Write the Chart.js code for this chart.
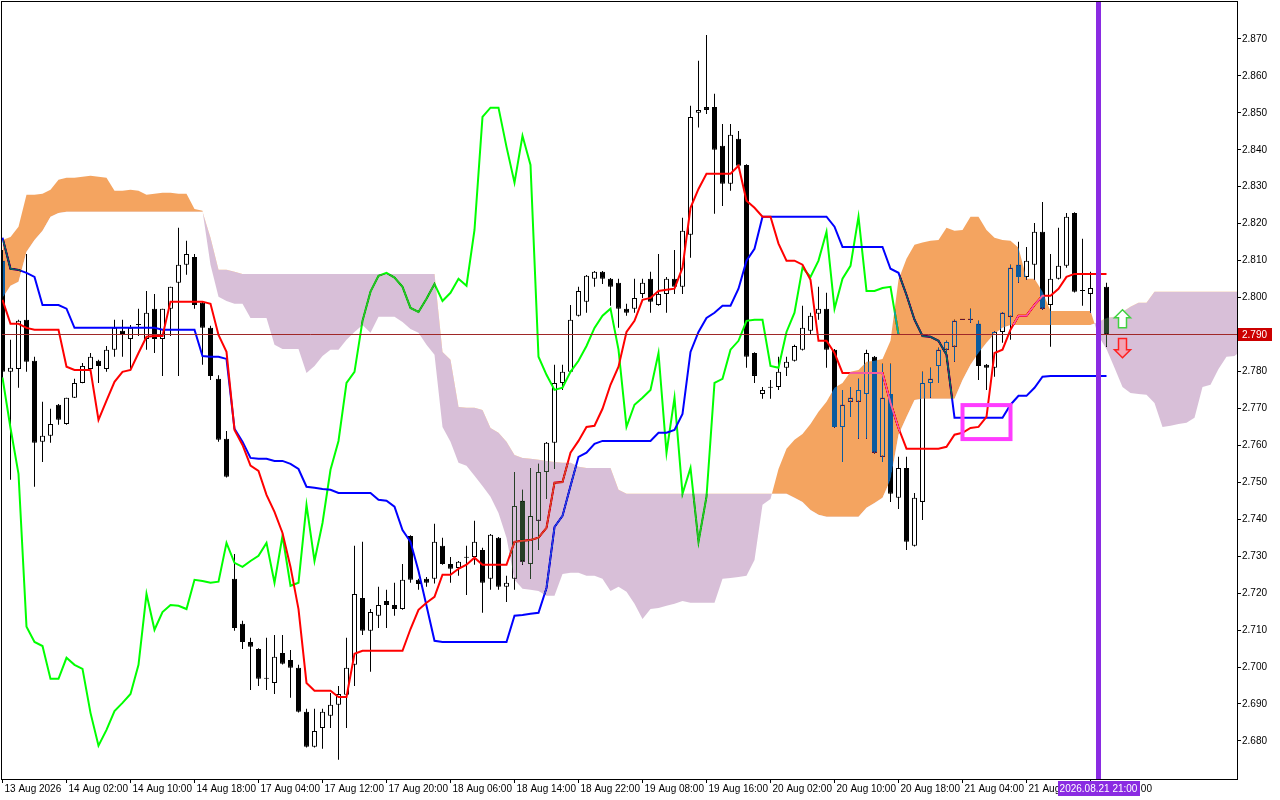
<!DOCTYPE html>
<html>
<head>
<meta charset="utf-8">
<title>Ichimoku H1</title>
<script src="https://cdn.jsdelivr.net/npm/chart.js@4.4.1/dist/chart.umd.min.js"></script>
<style>
  html, body { margin: 0; padding: 0; background: #fff; }
  canvas { display: block; }
</style>
</head>
<body>
<canvas id="chart" width="1280" height="800"></canvas>
<script>
// H1 candles, bar 0 = left edge of the window
const opens = [
  2.8100, 2.7799, 2.7807, 2.7940, 2.7829, 2.7610, 2.7626, 2.7710, 2.7658, 2.7729,
  2.7769, 2.7807, 2.7829, 2.7807, 2.7859, 2.7910, 2.7888, 2.7926, 2.7888, 2.7970,
  2.7888, 2.7970, 2.8040, 2.8089, 2.8110, 2.7986, 2.7918, 2.7780, 2.7618, 2.7239,
  2.7117, 2.7068, 2.7049, 2.6968, 2.6957, 2.7038, 2.7019, 2.6998, 2.6879, 2.6784,
  2.6835, 2.6868, 2.6898, 2.6925, 2.7006, 2.7187, 2.7098, 2.7139, 2.7179, 2.7168,
  2.7157, 2.7355, 2.7236, 2.7239, 2.7239, 2.7328, 2.7279, 2.7268, 2.7296, 2.7298,
  2.7317, 2.7239, 2.7350, 2.7217, 2.7239, 2.7450, 2.7279, 2.7396, 2.7528, 2.7607,
  2.7769, 2.7799, 2.7951, 2.7989, 2.8051, 2.8070, 2.8051, 2.8040, 2.7970, 2.7970,
  2.8010, 2.8051, 2.7980, 2.8010, 2.8051, 2.8029, 2.8170, 2.8500, 2.8516, 2.8516,
  2.8411, 2.8308, 2.8430, 2.8359, 2.7850, 2.7739, 2.7756, 2.7758, 2.7810, 2.7829,
  2.7859, 2.7910, 2.7956, 2.7970, 2.7859, 2.7650, 2.7718, 2.7718, 2.7739, 2.7840,
  2.7569, 2.7739, 2.7458, 2.7539, 2.7328, 2.7447, 2.7769, 2.7815, 2.7859, 2.7867,
  2.7940, 2.7940, 2.7929, 2.7818, 2.7810, 2.7907, 2.7948, 2.8089, 2.8056, 2.8089,
  2.8178, 2.7980, 2.8051, 2.8086, 2.8229, 2.8018, 2.8010, 2.8026, 2.8029
]
const highs = [
  2.8129, 2.7886, 2.7940, 2.8118, 2.7840, 2.7718, 2.7699, 2.7712, 2.7729, 2.7780,
  2.7823, 2.7850, 2.7832, 2.7869, 2.7940, 2.7940, 2.7926, 2.7970, 2.8018, 2.8010,
  2.7970, 2.8029, 2.8189, 2.8154, 2.8118, 2.7989, 2.7924, 2.7790, 2.7639, 2.7306,
  2.7125, 2.7079, 2.7051, 2.7079, 2.7087, 2.7087, 2.7046, 2.7006, 2.6887, 2.6887,
  2.6887, 2.6930, 2.6949, 2.7079, 2.7328, 2.7339, 2.7157, 2.7217, 2.7209, 2.7228,
  2.7279, 2.7357, 2.7239, 2.7244, 2.7388, 2.7350, 2.7298, 2.7287, 2.7328, 2.7396,
  2.7323, 2.7360, 2.7352, 2.7247, 2.7528, 2.7480, 2.7539, 2.7550, 2.7609, 2.7818,
  2.7818, 2.7980, 2.8029, 2.8061, 2.8072, 2.8072, 2.8053, 2.8051, 2.7983, 2.8051,
  2.8051, 2.8070, 2.8118, 2.8056, 2.8129, 2.8216, 2.8519, 2.8641, 2.8711, 2.8552,
  2.8470, 2.8470, 2.8451, 2.8361, 2.7852, 2.7758, 2.7777, 2.7840, 2.7840, 2.7872,
  2.7978, 2.7959, 2.8029, 2.8013, 2.7861, 2.7750, 2.7758, 2.7780, 2.7859, 2.7842,
  2.7821, 2.7821, 2.7569, 2.7569, 2.7471, 2.7799, 2.7810, 2.7864, 2.7883, 2.7940,
  2.7940, 2.7970, 2.7937, 2.7820, 2.7909, 2.7961, 2.8089, 2.8151, 2.8137, 2.8202,
  2.8259, 2.8118, 2.8189, 2.8229, 2.8231, 2.8159, 2.8070, 2.8048, 2.8040
]
const lows = [
  2.7783, 2.7507, 2.7756, 2.7799, 2.7488, 2.7555, 2.7607, 2.7656, 2.7656, 2.7728,
  2.7768, 2.7804, 2.7769, 2.7799, 2.7840, 2.7840, 2.7807, 2.7896, 2.7859, 2.7850,
  2.7788, 2.7896, 2.7788, 2.8062, 2.7970, 2.7818, 2.7777, 2.7610, 2.7513, 2.7098,
  2.7049, 2.6938, 2.6949, 2.6938, 2.6927, 2.7007, 2.6917, 2.6877, 2.6782, 2.6782,
  2.6779, 2.6835, 2.6749, 2.6835, 2.6949, 2.7087, 2.6987, 2.7106, 2.7106, 2.7139,
  2.7155, 2.7228, 2.7209, 2.7217, 2.7226, 2.7277, 2.7228, 2.7247, 2.7195, 2.7277,
  2.7147, 2.7209, 2.7209, 2.7176, 2.7209, 2.7277, 2.7238, 2.7317, 2.7455, 2.7536,
  2.7750, 2.7797, 2.7949, 2.7959, 2.8029, 2.8037, 2.7978, 2.7918, 2.7951, 2.7959,
  2.7999, 2.7959, 2.7978, 2.7959, 2.8010, 2.8010, 2.8108, 2.8460, 2.8497, 2.8227,
  2.8248, 2.8289, 2.8355, 2.7810, 2.7769, 2.7726, 2.7726, 2.7750, 2.7788, 2.7827,
  2.7857, 2.7899, 2.7940, 2.7810, 2.7648, 2.7555, 2.7677, 2.7618, 2.7618, 2.7578,
  2.7555, 2.7447, 2.7428, 2.7317, 2.7326, 2.7398, 2.7729, 2.7769, 2.7826, 2.7826,
  2.7940, 2.7932, 2.7777, 2.7750, 2.7786, 2.7878, 2.7886, 2.8040, 2.8048, 2.8048,
  2.7967, 2.7867, 2.8049, 2.8081, 2.8014, 2.7978, 2.7959, 2.8005, 2.7867
]
const closes = [
  2.7799, 2.7810, 2.7937, 2.7826, 2.7607, 2.7626, 2.7658, 2.7669, 2.7729, 2.7769,
  2.7815, 2.7840, 2.7815, 2.7859, 2.7918, 2.7899, 2.7918, 2.7926, 2.7959, 2.7888,
  2.7970, 2.8029, 2.8089, 2.8118, 2.7980, 2.7918, 2.7788, 2.7615, 2.7515, 2.7106,
  2.7068, 2.7055, 2.6968, 2.6968, 2.7028, 2.7009, 2.6998, 2.6879, 2.6784, 2.6827,
  2.6879, 2.6898, 2.6927, 2.6998, 2.7198, 2.7098, 2.7149, 2.7168, 2.7168, 2.7157,
  2.7236, 2.7236, 2.7225, 2.7228, 2.7339, 2.7279, 2.7266, 2.7285, 2.7298, 2.7339,
  2.7228, 2.7358, 2.7217, 2.7228, 2.7436, 2.7285, 2.7409, 2.7528, 2.7607, 2.7769,
  2.7799, 2.7940, 2.8018, 2.8059, 2.8070, 2.8051, 2.8029, 2.7970, 2.7959, 2.7999,
  2.8040, 2.7989, 2.8010, 2.8051, 2.8029, 2.8181, 2.8489, 2.8508, 2.8508, 2.8400,
  2.8308, 2.8441, 2.8357, 2.7840, 2.7788, 2.7750, 2.7756, 2.7799, 2.7826, 2.7869,
  2.7918, 2.7951, 2.7970, 2.7859, 2.7650, 2.7710, 2.7729, 2.7750, 2.7850, 2.7580,
  2.7729, 2.7469, 2.7539, 2.7339, 2.7458, 2.7769, 2.7780, 2.7859, 2.7880, 2.7937,
  2.7940, 2.7940, 2.7815, 2.7810, 2.7907, 2.7959, 2.8081, 2.8056, 2.8100, 2.8178,
  2.7970, 2.8051, 2.8086, 2.8219, 2.8016, 2.8018, 2.8026, 2.8029, 2.7900
]

// Ichimoku lines
const tenkan = [
  2.7994, 2.7929, 2.7929, 2.7918, 2.7913, 2.7913, 2.7913, 2.7913, 2.7813, 2.7804,
  2.7804, 2.7804, 2.7669, 2.7721, 2.7772, 2.7799, 2.7804, 2.7850, 2.7894, 2.7896,
  2.7896, 2.7989, 2.7989, 2.7989, 2.7989, 2.7989, 2.7983, 2.7899, 2.7853, 2.7642,
  2.7601, 2.7545, 2.7531, 2.7466, 2.7420, 2.7363, 2.7271, 2.7157, 2.6957, 2.6936,
  2.6936, 2.6936, 2.6919, 2.6919, 2.7036, 2.7044, 2.7044, 2.7044, 2.7044, 2.7044,
  2.7044, 2.7103, 2.7155, 2.7174, 2.7190, 2.7250, 2.7250, 2.7266, 2.7277, 2.7296,
  2.7277, 2.7277, 2.7277, 2.7277, 2.7339, 2.7342, 2.7344, 2.7350, 2.7377, 2.7499,
  2.7501, 2.7580, 2.7612, 2.7650, 2.7653, 2.7699, 2.7764, 2.7813, 2.7907, 2.7937,
  2.7994, 2.7999, 2.8018, 2.8021, 2.8024, 2.8081, 2.8243, 2.8294, 2.8335, 2.8335,
  2.8335, 2.8335, 2.8357, 2.8262, 2.8243, 2.8219, 2.8219, 2.8146, 2.8100, 2.8100,
  2.8089, 2.8048, 2.7883, 2.7883, 2.7850, 2.7796, 2.7796, 2.7796, 2.7796, 2.7796,
  2.7796, 2.7715, 2.7647, 2.7591, 2.7591, 2.7591, 2.7591, 2.7591, 2.7596, 2.7629,
  2.7634, 2.7647, 2.7650, 2.7677, 2.7850, 2.7859, 2.7913, 2.7951, 2.7951, 2.7980,
  2.8005, 2.8005, 2.8024, 2.8056, 2.8064, 2.8064, 2.8064, 2.8064, 2.8064
]
const kijun = [
  2.8162, 2.8078, 2.8075, 2.8067, 2.8056, 2.7980, 2.7980, 2.7980, 2.7970, 2.7918,
  2.7918, 2.7918, 2.7918, 2.7918, 2.7918, 2.7918, 2.7918, 2.7918, 2.7918, 2.7918,
  2.7913, 2.7913, 2.7913, 2.7913, 2.7913, 2.7842, 2.7840, 2.7840, 2.7834, 2.7645,
  2.7610, 2.7566, 2.7564, 2.7564, 2.7558, 2.7558, 2.7550, 2.7536, 2.7488, 2.7485,
  2.7482, 2.7480, 2.7471, 2.7471, 2.7471, 2.7471, 2.7471, 2.7453, 2.7450, 2.7434,
  2.7371, 2.7339, 2.7260, 2.7166, 2.7071, 2.7068, 2.7068, 2.7068, 2.7068, 2.7068,
  2.7068, 2.7068, 2.7068, 2.7068, 2.7139, 2.7141, 2.7144, 2.7147, 2.7214, 2.7379,
  2.7409, 2.7490, 2.7569, 2.7580, 2.7604, 2.7612, 2.7612, 2.7612, 2.7612, 2.7612,
  2.7612, 2.7612, 2.7634, 2.7634, 2.7642, 2.7685, 2.7853, 2.7907, 2.7945, 2.7959,
  2.7978, 2.7978, 2.8024, 2.8100, 2.8132, 2.8219, 2.8219, 2.8219, 2.8219, 2.8219,
  2.8219, 2.8219, 2.8219, 2.8219, 2.8192, 2.8137, 2.8137, 2.8137, 2.8137, 2.8137,
  2.8137, 2.8078, 2.8067, 2.8007, 2.7940, 2.7896, 2.7894, 2.7883, 2.7845, 2.7675,
  2.7675, 2.7675, 2.7675, 2.7675, 2.7675, 2.7675, 2.7710, 2.7734, 2.7734, 2.7756,
  2.7786, 2.7788, 2.7788, 2.7788, 2.7788, 2.7788, 2.7788, 2.7788, 2.7788
]
// lagging span, plotted 26 bars back
const chikou = [
  2.7783, 2.7647, 2.7523, 2.7109, 2.7068, 2.7057, 2.6968, 2.6968, 2.7025, 2.7006,
  2.6995, 2.6876, 2.6787, 2.6830, 2.6881, 2.6903, 2.6927, 2.7006, 2.7198, 2.7101,
  2.7149, 2.7168, 2.7166, 2.7157, 2.7236, 2.7233, 2.7228, 2.7231, 2.7336, 2.7282,
  2.7271, 2.7287, 2.7301, 2.7336, 2.7228, 2.7355, 2.7220, 2.7228, 2.7439, 2.7287,
  2.7390, 2.7534, 2.7612, 2.7769, 2.7799, 2.7937, 2.8016, 2.8059, 2.8067, 2.8054,
  2.8029, 2.7972, 2.7961, 2.7997, 2.8037, 2.7991, 2.8013, 2.8051, 2.8032, 2.8183,
  2.8489, 2.8514, 2.8514, 2.8408, 2.8311, 2.8438, 2.8359, 2.7840, 2.7791, 2.7750,
  2.7756, 2.7799, 2.7829, 2.7869, 2.7918, 2.7951, 2.7970, 2.7859, 2.7650, 2.7710,
  2.7729, 2.7750, 2.7850, 2.7580, 2.7729, 2.7469, 2.7539, 2.7339, 2.7461, 2.7769,
  2.7780, 2.7859, 2.7883, 2.7937, 2.7940, 2.7940, 2.7815, 2.7810, 2.7907, 2.7959,
  2.8081, 2.8056, 2.8100, 2.8178, 2.7970, 2.8051, 2.8086, 2.8219, 2.8018, 2.8018,
  2.8026, 2.8029, 2.7900
]
// cloud edges, plotted 26 bars ahead (runs past the last candle)
const spanA = [
  2.8156, 2.8164, 2.8192, 2.8278, 2.8278, 2.8281, 2.8292, 2.8319, 2.8324, 2.8324,
  2.8327, 2.8330, 2.8327, 2.8324, 2.8289, 2.8289, 2.8292, 2.8289, 2.8278, 2.8281,
  2.8284, 2.8284, 2.8281, 2.8281, 2.8240, 2.8235, 2.8089, 2.8002, 2.7991, 2.7983,
  2.7983, 2.7945, 2.7945, 2.7945, 2.7872, 2.7861, 2.7861, 2.7861, 2.7796, 2.7815,
  2.7842, 2.7859, 2.7859, 2.7886, 2.7907, 2.7926, 2.7905, 2.7948, 2.7948, 2.7948,
  2.7934, 2.7915, 2.7905, 2.7872, 2.7845, 2.7650, 2.7610, 2.7553, 2.7545, 2.7518,
  2.7490, 2.7461, 2.7417, 2.7350, 2.7236, 2.7212, 2.7209, 2.7206, 2.7193, 2.7193,
  2.7252, 2.7255, 2.7255, 2.7247, 2.7247, 2.7239, 2.7206, 2.7217, 2.7204, 2.7171,
  2.7130, 2.7157, 2.7160, 2.7166, 2.7171, 2.7179, 2.7174, 2.7174, 2.7174, 2.7174,
  2.7239, 2.7241, 2.7244, 2.7247, 2.7290, 2.7439, 2.7455, 2.7536, 2.7591, 2.7615,
  2.7631, 2.7658, 2.7691, 2.7718, 2.7756, 2.7769, 2.7799, 2.7804, 2.7826, 2.7829,
  2.7834, 2.7883, 2.8048, 2.8105, 2.8143, 2.8149, 2.8154, 2.8156, 2.8189, 2.8181,
  2.8183, 2.8219, 2.8219, 2.8183, 2.8162, 2.8156, 2.8154, 2.8135, 2.8051, 2.8051,
  2.8016, 2.7964, 2.7964, 2.7964, 2.7964, 2.7964, 2.7964, 2.7896, 2.7861, 2.7810,
  2.7758, 2.7742, 2.7739, 2.7737, 2.7715, 2.7650, 2.7653, 2.7658, 2.7661, 2.7675,
  2.7758, 2.7764, 2.7807, 2.7840, 2.7842, 2.7859
]
const spanB = [
  2.7999, 2.8032, 2.8043, 2.8124, 2.8156, 2.8181, 2.8219, 2.8229, 2.8232, 2.8232,
  2.8232, 2.8232, 2.8232, 2.8232, 2.8232, 2.8232, 2.8232, 2.8232, 2.8232, 2.8232,
  2.8232, 2.8232, 2.8232, 2.8232, 2.8232, 2.8232, 2.8162, 2.8075, 2.8075, 2.8070,
  2.8064, 2.8064, 2.8064, 2.8064, 2.8064, 2.8064, 2.8064, 2.8064, 2.8064, 2.8064,
  2.8064, 2.8064, 2.8064, 2.8064, 2.8064, 2.8064, 2.8064, 2.8064, 2.8064, 2.8064,
  2.8064, 2.8064, 2.8064, 2.8064, 2.8064, 2.7853, 2.7832, 2.7704, 2.7702, 2.7702,
  2.7696, 2.7647, 2.7634, 2.7610, 2.7574, 2.7566, 2.7564, 2.7561, 2.7558, 2.7555,
  2.7553, 2.7553, 2.7542, 2.7539, 2.7539, 2.7539, 2.7539, 2.7480, 2.7469, 2.7469,
  2.7469, 2.7469, 2.7469, 2.7469, 2.7469, 2.7469, 2.7469, 2.7469, 2.7469, 2.7469,
  2.7469, 2.7469, 2.7469, 2.7469, 2.7469, 2.7469, 2.7469, 2.7469, 2.7469, 2.7458,
  2.7447, 2.7425, 2.7412, 2.7407, 2.7407, 2.7407, 2.7407, 2.7407, 2.7431, 2.7444,
  2.7458, 2.7507, 2.7629, 2.7677, 2.7723, 2.7726, 2.7726, 2.7726, 2.7726, 2.7726,
  2.7777, 2.7818, 2.7850, 2.7878, 2.7902, 2.7918, 2.7926, 2.7926, 2.7926, 2.7926,
  2.7926, 2.7926, 2.7926, 2.7926, 2.7926, 2.7926, 2.7926, 2.7934, 2.7945, 2.7948,
  2.7961, 2.7975, 2.7986, 2.7986, 2.8016, 2.8016, 2.8016, 2.8016, 2.8016, 2.8016,
  2.8016, 2.8016, 2.8016, 2.8016, 2.8016, 2.8016
]

const xTickBars = [0, 8, 16, 24, 32, 40, 48, 56, 64, 72, 80, 88, 96, 104, 112, 120, 128, 136]
const xTickLabels = [
  "13 Aug 2026", "14 Aug 02:00", "14 Aug 10:00", "14 Aug 18:00", "17 Aug 04:00", "17 Aug 12:00",
  "17 Aug 20:00", "18 Aug 06:00", "18 Aug 14:00", "18 Aug 22:00", "19 Aug 08:00", "19 Aug 16:00",
  "20 Aug 02:00", "20 Aug 10:00", "20 Aug 18:00", "21 Aug 04:00", "21 Aug 12:00", "21 Aug 20:00"
]
const priceTicks = [
  2.68, 2.69, 2.70, 2.71, 2.72, 2.73, 2.74, 2.75, 2.76, 2.77,
  2.78, 2.79, 2.80, 2.81, 2.82, 2.83, 2.84, 2.85, 2.86, 2.87
]

// chart objects
const lastPrice = 2.790
const markerBar = 137
const markerLabel = "2026.08.21 21:00"
const boxBars = [120, 126]
const boxPrices = [2.7709, 2.7617]
const arrowBar = 140
const upArrow = [2.7967, 2.7918]   // tip, base
const downArrow = [2.7837, 2.7889] // tip, base

// cloud is painted in "difference" mode the way the terminal does it:
// these colours turn white into sandy brown / thistle
const CLOUD_UP = "rgb(11,91,159)"
const CLOUD_DOWN = "rgb(39,64,39)"

Chart.defaults.font.family = "'Liberation Sans', Arial, sans-serif"
Chart.defaults.font.size = 10
Chart.defaults.color = "#000"

const barIdx = closes.map((_, i) => i)
const pts = (arr) => arr.map((v, i) => ({ x: i, y: v }))

function drawArrow(c, x, yTip, yBase, stroke, fill) {
  const s = yBase > yTip ? 1 : -1
  const yh = yTip + 8 * s
  c.beginPath()
  c.moveTo(x, yTip)
  c.lineTo(x + 8, yh)
  c.lineTo(x + 4, yh)
  c.lineTo(x + 4, yBase)
  c.lineTo(x - 4, yBase)
  c.lineTo(x - 4, yh)
  c.lineTo(x - 8, yh)
  c.closePath()
  c.fillStyle = fill
  c.fill()
  c.lineWidth = 1.5
  c.strokeStyle = stroke
  c.stroke()
}

const terminalLook = {
  id: "terminalLook",
  beforeDraw(chart) {
    const c = chart.ctx
    c.save()
    c.fillStyle = "#fff"
    c.fillRect(0, 0, chart.width, chart.height)
    c.restore()
  },
  afterDatasetDraw(chart, args) {
    const name = chart.data.datasets[args.index].label
    if (name === "Senkou Span B") chart.ctx.globalCompositeOperation = "difference"
    if (name === "Senkou Span A") chart.ctx.globalCompositeOperation = "source-over"
  },
  afterDatasetsDraw(chart) {
    const c = chart.ctx
    const xs = chart.scales.x
    const ys = chart.scales.y
    const a = chart.chartArea
    c.save()
    c.globalCompositeOperation = "source-over"
    c.beginPath()
    c.rect(a.left, a.top, a.right - a.left, a.bottom - a.top)
    c.clip()

    // bid line
    const py = Math.floor(ys.getPixelForValue(lastPrice)) + 0.5
    c.strokeStyle = "rgb(160,40,40)"
    c.lineWidth = 1
    c.beginPath()
    c.moveTo(a.left, py)
    c.lineTo(a.right, py)
    c.stroke()

    // rectangle object
    const bx1 = xs.getPixelForValue(boxBars[0])
    const bx2 = xs.getPixelForValue(boxBars[1])
    const by1 = ys.getPixelForValue(boxPrices[0])
    const by2 = ys.getPixelForValue(boxPrices[1])
    c.strokeStyle = "#ff3cff"
    c.lineWidth = 4
    c.strokeRect(bx1, by1, bx2 - bx1, by2 - by1)

    // arrows
    const ax = xs.getPixelForValue(arrowBar)
    drawArrow(c, ax, ys.getPixelForValue(upArrow[0]), ys.getPixelForValue(upArrow[1]), "#3fd23f", "#ffffff")
    drawArrow(c, ax, ys.getPixelForValue(downArrow[0]), ys.getPixelForValue(downArrow[1]), "#ff2020", "#f3a3b4")

    // vertical line at the selected bar
    const mx = xs.getPixelForValue(markerBar)
    c.fillStyle = "#8a2be2"
    c.fillRect(mx - 2.5, a.top, 5, a.bottom - a.top)
    c.restore()
  },
  afterDraw(chart) {
    const c = chart.ctx
    const xs = chart.scales.x
    const ys = chart.scales.y
    const a = chart.chartArea
    c.save()
    c.globalCompositeOperation = "source-over"
    c.strokeStyle = "#000"
    c.lineWidth = 1
    c.strokeRect(a.left - 0.5, a.top - 0.5, a.right - a.left + 1, a.bottom - a.top + 1)

    c.font = "10px 'Liberation Sans', Arial, sans-serif"
    c.textBaseline = "middle"

    // price tag on the axis
    const py = ys.getPixelForValue(lastPrice)
    c.fillStyle = "#cc0000"
    c.fillRect(a.right + 1, Math.round(py) - 7, 34, 13)
    c.fillStyle = "#fff"
    c.textAlign = "left"
    c.fillText(lastPrice.toFixed(3), a.right + 5, Math.round(py))

    // time tag under the vertical line
    const mx = xs.getPixelForValue(markerBar)
    const w = c.measureText(markerLabel).width + 4
    c.fillStyle = "#8a2be2"
    c.fillRect(Math.round(mx - w / 2), a.bottom + 2, Math.round(w), 15)
    c.fillStyle = "#fff"
    c.textAlign = "center"
    c.fillText(markerLabel, mx, a.bottom + 10)
    c.restore()
  }
}

new Chart(document.getElementById("chart"), {
  type: "bar",
  data: {
    datasets: [
      {
        type: "bar",
        label: "Wicks",
        data: barIdx.map((i) => ({ x: i, y: [lows[i], highs[i]] })),
        backgroundColor: "#000",
        barThickness: 1,
        inflateAmount: 0,
        grouped: false,
        clip: 0,
        order: 6,
      },
      {
        type: "bar",
        label: "Bodies",
        data: barIdx.map((i) => ({ x: i, y: [opens[i], closes[i]] })),
        backgroundColor: barIdx.map((i) => (closes[i] >= opens[i] ? "#fff" : "#000")),
        borderColor: "#000",
        borderWidth: 1,
        borderSkipped: false,
        barThickness: 5,
        minBarLength: 1,
        inflateAmount: 0,
        grouped: false,
        clip: 0,
        order: 5,
      },
      {
        type: "line",
        label: "Chikou Span",
        data: pts(chikou),
        borderColor: "#00ff00",
        borderWidth: 2,
        pointRadius: 0,
        tension: 0,
        fill: false,
        clip: 0,
        order: 4,
      },
      {
        type: "line",
        label: "Kijun-sen",
        data: pts(kijun),
        borderColor: "#0000ff",
        borderWidth: 2,
        pointRadius: 0,
        tension: 0,
        fill: false,
        clip: 0,
        order: 3,
      },
      {
        type: "line",
        label: "Tenkan-sen",
        data: pts(tenkan),
        borderColor: "#ff0000",
        borderWidth: 2,
        pointRadius: 0,
        tension: 0,
        fill: false,
        clip: 0,
        order: 2,
      },
      {
        type: "line",
        label: "Senkou Span A",
        data: pts(spanA),
        borderColor: "rgba(0,0,0,0)",
        borderWidth: 0,
        pointRadius: 0,
        tension: 0,
        fill: { target: "+1", above: CLOUD_UP, below: CLOUD_DOWN },
        clip: 0,
        order: 0,
      },
      {
        type: "line",
        label: "Senkou Span B",
        data: pts(spanB),
        borderColor: "rgba(0,0,0,0)",
        borderWidth: 0,
        pointRadius: 0,
        tension: 0,
        fill: false,
        clip: 0,
        order: 1,
      },
    ],
  },
  options: {
    responsive: false,
    animation: false,
    devicePixelRatio: 1,
    events: [],
    layout: { padding: { left: 2, top: 2, right: 0, bottom: 0 } },
    plugins: {
      legend: { display: false },
      tooltip: { enabled: false },
    },
    scales: {
      x: {
        type: "linear",
        min: -0.0625,
        max: 154.3125,
        offset: false,
        afterBuildTicks: (axis) => {
          axis.ticks = xTickBars.map((v) => ({ value: v }))
        },
        afterFit: (axis) => {
          axis.height = 21
          axis.paddingLeft = 0
          axis.paddingRight = 0
        },
        grid: { display: true, offset: false, drawOnChartArea: false, drawTicks: true, tickLength: 4, color: "#000" },
        border: { display: false },
        ticks: {
          autoSkip: false,
          maxRotation: 0,
          minRotation: 0,
          align: "start",
          labelOffset: 2,
          padding: 0,
          callback: (v) => xTickLabels[xTickBars.indexOf(v)],
        },
      },
      y: {
        type: "linear",
        position: "right",
        min: 2.6697,
        max: 2.88,
        afterBuildTicks: (axis) => {
          axis.ticks = priceTicks.map((v) => ({ value: v }))
        },
        afterFit: (axis) => {
          axis.width = 43
          axis.paddingTop = 0
          axis.paddingBottom = 0
        },
        grid: { display: true, drawOnChartArea: false, drawTicks: true, tickLength: 4, color: "#000" },
        border: { display: false },
        ticks: {
          padding: 1,
          callback: (v) => v.toFixed(3),
        },
      },
    },
  },
  plugins: [terminalLook],
})
</script>
</body>
</html>
